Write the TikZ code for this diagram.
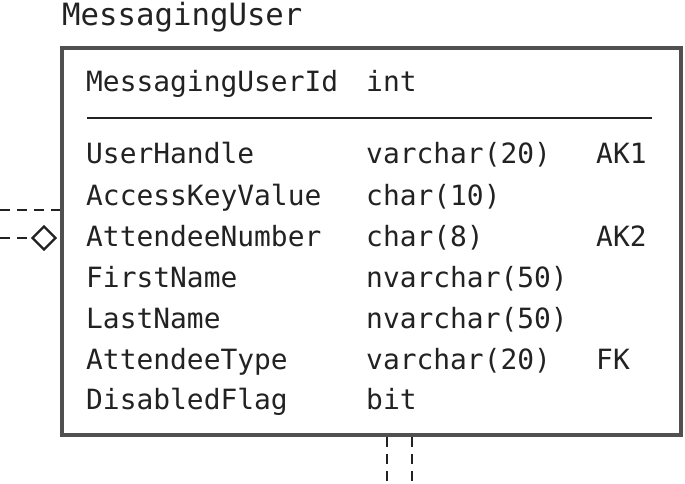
\documentclass[tikz,border=0pt]{standalone}
\usepackage{fontspec}
\setmonofont{DejaVu Sans Mono}
\usetikzlibrary{shapes.geometric}
\definecolor{txt}{HTML}{222222}
\definecolor{frame}{HTML}{505050}
\begin{document}
\begin{tikzpicture}[x=1pt,y=-1pt,
  fld/.style={anchor=base west,inner sep=0pt,text=txt,font=\ttfamily\fontsize{27.9}{30}\selectfont},
  conn/.style={dashed,dash pattern=on 10pt off 7pt,line width=2.2pt,draw=txt},
  ]
\useasboundingbox (0,0) rectangle (685,484);
\node[fld,font=\ttfamily\fontsize{30.7}{33}\selectfont] (title) at (62,26) {MessagingUser};
\node[draw=frame,line width=4pt,minimum width=619pt,minimum height=387pt,anchor=north west,inner sep=0pt] (box) at (60,46) {};
\node[fld] (pk) at (86,92) {MessagingUserId};
\node[fld] (pkt) at (366,92) {int};
\draw[line width=2pt,txt] (87,118) coordinate (s1) -- (652,118) coordinate (s2);
\node[fld] (a1) at (86,164) {UserHandle};
\node[fld] (a2) at (366,164) {varchar(20)};
\node[fld] (a3) at (596,164) {AK1};
\node[fld] (b1) at (86,205) {AccessKeyValue};
\node[fld] (b2) at (366,205) {char(10)};
\node[fld] (c1) at (86,246) {AttendeeNumber};
\node[fld] (c2) at (366,246) {char(8)};
\node[fld] (c3) at (596,246) {AK2};
\node[fld] (d1) at (86,287) {FirstName};
\node[fld] (d2) at (366,287) {nvarchar(50)};
\node[fld] (e1) at (86,328) {LastName};
\node[fld] (e2) at (366,328) {nvarchar(50)};
\node[fld] (f1) at (86,369) {AttendeeType};
\node[fld] (f2) at (366,369) {varchar(20)};
\node[fld] (f3) at (596,369) {FK};
\node[fld] (g1) at (86,409) {DisabledFlag};
\node[fld] (g2) at (366,409) {bit};
% connectors
\coordinate (l1) at (0,210);
\coordinate (l2) at (0,238);
\node[diamond,draw=txt,line width=2.4pt,fill=white,minimum width=24pt,minimum height=24pt,inner sep=0pt] (dia) at (44,238) {};
\draw[conn] (l1) -- (box.west |- l1);
\draw[conn] (l2) -- (dia.west);
\coordinate (b1e) at (387,484);
\coordinate (b2e) at (412,484);
\draw[conn] (box.south -| b1e) -- (b1e);
\draw[conn] (box.south -| b2e) -- (b2e);
\end{tikzpicture}
\end{document}
